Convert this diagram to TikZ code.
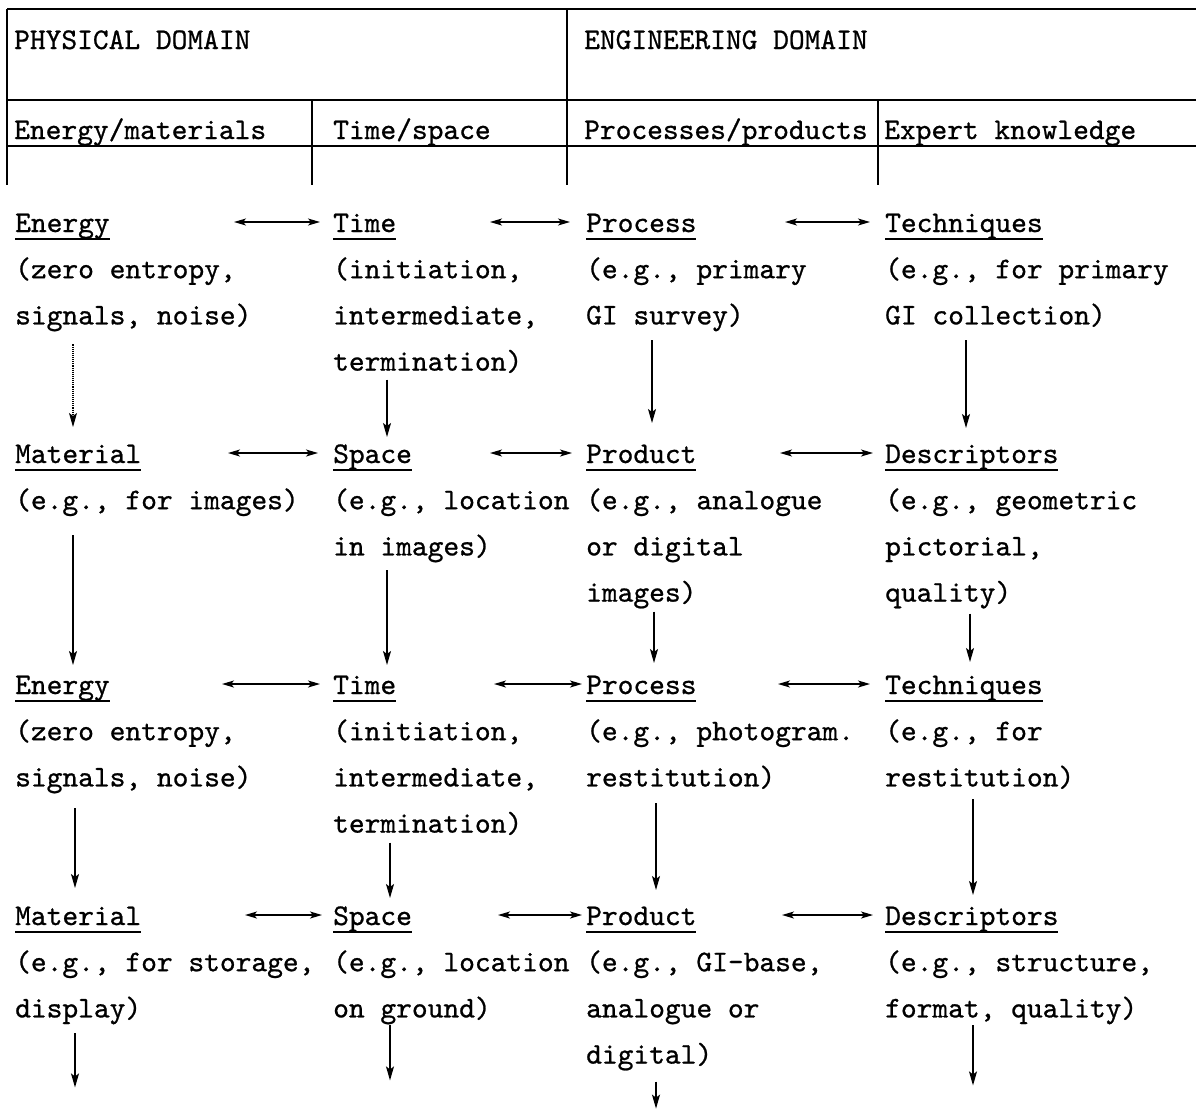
\documentclass[tikz,border=0pt]{standalone}
\usepackage{fontspec}
\newfontfamily\twfont{lmmono10-regular.otf}[FakeBold=0.8]
\usetikzlibrary{arrows.meta}
\newcommand\ulx[1]{\setbox0=\hbox{#1}\rlap{\rule[-7.5pt]{\wd0}{1.5pt}}\box0}
\begin{document}
\begin{tikzpicture}[x=1pt,y=-1pt,
  txt/.style={inner sep=0pt,anchor=base west,font=\twfont\fontsize{30}{36}\selectfont},
  rule/.style={line width=1.8pt},
  dbl/.style={line width=1.3pt,{Stealth[length=12pt,width=7pt,inset=3pt]}-{Stealth[length=12pt,width=7pt,inset=3pt]}},
  dn/.style={line width=1.3pt,-{Stealth[length=14pt,width=8pt,inset=3pt]}},
  faint/.style={line width=1.1pt,densely dotted,-{Stealth[length=14pt,width=8pt,inset=3pt]}}]
\useasboundingbox (0,0) rectangle (1196,1109);
% header table
\draw[rule] (7,9) -- (1196,9);
\draw[rule] (7,100) -- (1196,100);
\draw[rule] (7,146) -- (1196,146);
\draw[rule] (7,9) -- (7,185);
\draw[rule] (567,9) -- (567,185);
\draw[rule] (312,100) -- (312,185);
\draw[rule] (878,100) -- (878,185);
\node[txt] (h1) at (14,49) {PHYSICAL DOMAIN};
\node[txt] (h2) at (584,49) {ENGINEERING DOMAIN};
\node[txt] (s1) at (14,139) {Energy/materials};
\node[txt] (s2) at (333,139) {Time/space};
\node[txt] (s3) at (584,139) {Processes/products};
\node[txt] (s4) at (884,139) {Expert knowledge};
% block 1
\node[txt] (A1) at (15,232) {\ulx{Energy}};
\node[txt] (A1a) at (15,278.2) {(zero entropy,};
\node[txt] (A1b) at (15,324.4) {signals, noise)};
\node[txt] (B1) at (333,232) {\ulx{Time}};
\node[txt] (B1a) at (333,278.2) {(initiation,};
\node[txt] (B1b) at (333,324.4) {intermediate,};
\node[txt] (B1c) at (333,370.6) {termination)};
\node[txt] (C1) at (586,232) {\ulx{Process}};
\node[txt] (C1a) at (586,278.2) {(e.g., primary};
\node[txt] (C1b) at (586,324.4) {GI survey)};
\node[txt] (D1) at (885,232) {\ulx{Techniques}};
\node[txt] (D1a) at (885,278.2) {(e.g., for primary};
\node[txt] (D1b) at (885,324.4) {GI collection)};
% block 2
\node[txt] (A2) at (15,463) {\ulx{Material}};
\node[txt] (A2a) at (15,509.2) {(e.g., for images)};
\node[txt] (B2) at (333,463) {\ulx{Space}};
\node[txt] (B2a) at (333,509.2) {(e.g., location};
\node[txt] (B2b) at (333,555.4) {in images)};
\node[txt] (C2) at (586,463) {\ulx{Product}};
\node[txt] (C2a) at (586,509.2) {(e.g., analogue};
\node[txt] (C2b) at (586,555.4) {or digital};
\node[txt] (C2c) at (586,601.6) {images)};
\node[txt] (D2) at (885,463) {\ulx{Descriptors}};
\node[txt] (D2a) at (885,509.2) {(e.g., geometric};
\node[txt] (D2b) at (885,555.4) {pictorial,};
\node[txt] (D2c) at (885,601.6) {quality)};
% block 3
\node[txt] (A3) at (15,694) {\ulx{Energy}};
\node[txt] (A3a) at (15,740.2) {(zero entropy,};
\node[txt] (A3b) at (15,786.4) {signals, noise)};
\node[txt] (B3) at (333,694) {\ulx{Time}};
\node[txt] (B3a) at (333,740.2) {(initiation,};
\node[txt] (B3b) at (333,786.4) {intermediate,};
\node[txt] (B3c) at (333,832.6) {termination)};
\node[txt] (C3) at (586,694) {\ulx{Process}};
\node[txt] (C3a) at (586,740.2) {(e.g., photogram.};
\node[txt] (C3b) at (586,786.4) {restitution)};
\node[txt] (D3) at (885,694) {\ulx{Techniques}};
\node[txt] (D3a) at (885,740.2) {(e.g., for};
\node[txt] (D3b) at (885,786.4) {restitution)};
% block 4
\node[txt] (A4) at (15,925) {\ulx{Material}};
\node[txt] (A4a) at (15,971.2) {(e.g., for storage,};
\node[txt] (A4b) at (15,1017.4) {display)};
\node[txt] (B4) at (333,925) {\ulx{Space}};
\node[txt] (B4a) at (333,971.2) {(e.g., location};
\node[txt] (B4b) at (333,1017.4) {on ground)};
\node[txt] (C4) at (586,925) {\ulx{Product}};
\node[txt] (C4a) at (586,971.2) {(e.g., GI-base,};
\node[txt] (C4b) at (586,1017.4) {analogue or};
\node[txt] (C4c) at (586,1063.6) {digital)};
\node[txt] (D4) at (885,925) {\ulx{Descriptors}};
\node[txt] (D4a) at (885,971.2) {(e.g., structure,};
\node[txt] (D4b) at (885,1017.4) {format, quality)};
% horizontal double arrows
\draw[dbl] ([shift={(219,-10)}]A1.base west) -- ([shift={(-13,-10)}]B1.base west);
\draw[dbl] ([shift={(157,-10)}]B1.base west) -- ([shift={(-16,-10)}]C1.base west);
\draw[dbl] ([shift={(199,-10)}]C1.base west) -- ([shift={(-15,-10)}]D1.base west);
\draw[dbl] ([shift={(213,-10)}]A2.base west) -- ([shift={(-15,-10)}]B2.base west);
\draw[dbl] ([shift={(157,-10)}]B2.base west) -- ([shift={(-14,-10)}]C2.base west);
\draw[dbl] ([shift={(194,-10)}]C2.base west) -- ([shift={(-12,-10)}]D2.base west);
\draw[dbl] ([shift={(207,-10)}]A3.base west) -- ([shift={(-13,-10)}]B3.base west);
\draw[dbl] ([shift={(161,-10)}]B3.base west) -- ([shift={(-4,-10)}]C3.base west);
\draw[dbl] ([shift={(192,-10)}]C3.base west) -- ([shift={(-15,-10)}]D3.base west);
\draw[dbl] ([shift={(230,-10)}]A4.base west) -- ([shift={(-11,-10)}]B4.base west);
\draw[dbl] ([shift={(165,-10)}]B4.base west) -- ([shift={(-4,-10)}]C4.base west);
\draw[dbl] ([shift={(196,-10)}]C4.base west) -- ([shift={(-12,-10)}]D4.base west);
% vertical arrows block 1 -> 2
\draw[faint] ([shift={(58,20)}]A1b.base west) -- ([shift={(58,-36)}]A2.base west);
\draw[dn] ([shift={(54,9)}]B1c.base west) -- ([shift={(54,-26)}]B2.base west);
\draw[dn] ([shift={(66,16)}]C1b.base west) -- ([shift={(66,-40)}]C2.base west);
\draw[dn] ([shift={(81,16)}]D1b.base west) -- ([shift={(81,-35)}]D2.base west);
% block 2 -> 3
\draw[dn] ([shift={(58,26)}]A2a.base west) -- ([shift={(58,-29)}]A3.base west);
\draw[dn] ([shift={(54,15)}]B2b.base west) -- ([shift={(54,-29)}]B3.base west);
\draw[dn] ([shift={(68,10)}]C2c.base west) -- ([shift={(68,-31)}]C3.base west);
\draw[dn] ([shift={(85,12)}]D2c.base west) -- ([shift={(85,-32)}]D3.base west);
% block 3 -> 4
\draw[dn] ([shift={(60,22)}]A3b.base west) -- ([shift={(60,-37)}]A4.base west);
\draw[dn] ([shift={(57,10)}]B3c.base west) -- ([shift={(57,-27)}]B4.base west);
\draw[dn] ([shift={(70,17)}]C3b.base west) -- ([shift={(70,-35)}]C4.base west);
\draw[dn] ([shift={(88,13)}]D3b.base west) -- ([shift={(88,-30)}]D4.base west);
% outgoing arrows
\draw[dn] ([shift={(60,16)}]A4b.base west) -- ++(0,54);
\draw[dn] ([shift={(57,8)}]B4b.base west) -- ++(0,55);
\draw[dn] ([shift={(70,18)}]C4c.base west) -- ++(0,27);
\draw[dn] ([shift={(88,8)}]D4b.base west) -- ++(0,60);
\end{tikzpicture}
\end{document}
